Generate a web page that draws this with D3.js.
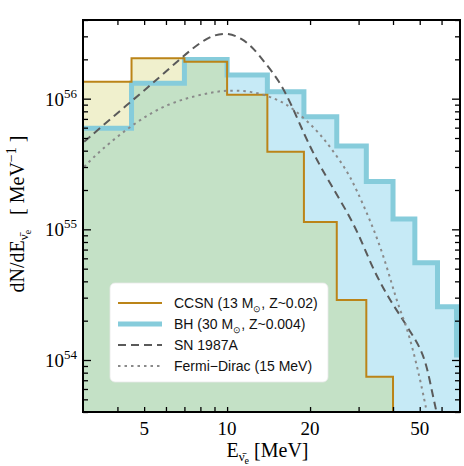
<!DOCTYPE html>
<html>
<head>
<meta charset="utf-8">
<script src="https://cdn.jsdelivr.net/npm/d3@7"></script>
<style>
  body { margin: 0; background: #fff; }
  svg { display: block; }
</style>
</head>
<body>
<div id="chart"></div>
<script>
// bin edges [MeV] and per-bin dN/dE values
const binEdges = [2, 4.5, 7, 10, 14, 19, 25, 32, 40, 48, 58, 68, 80];
const ccsnValues = [1.35e56, 2.04e56, 1.92e56, 1.07e56, 3.93e55, 1.14e55, 2.88e54, 7.45e53, 2e53, 2e53, 2e53, 2e53];
const bhValues = [5.93e55, 1.31e56, 1.99e56, 1.52e56, 1.13e56, 7.28e55, 4.35e55, 2.32e55, 1.20e55, 5.56e54, 2.56e54, 1.09e54];

// SN 1987A curve (dashed)
const snE = [3.03, 4.47, 5.28, 6.68, 8.35, 9.86, 11.33, 12.48, 13.76, 15.37, 16.94, 19.2, 21.16, 23.63, 27.16, 30.34, 33.9, 38.96, 42.36, 46.03, 50.03, 53.0, 55.7, 57.6, 60];
const snN = [4.69e55, 9.48e55, 1.27e56, 1.98e56, 2.93e56, 3.25e56, 2.90e56, 2.43e56, 1.87e56, 1.39e56, 9.48e55, 5.12e55, 3.39e55, 2.25e55, 1.38e55, 8.78e54, 4.89e54, 2.88e54, 2.21e54, 1.67e54, 1.26e54, 9.16e53, 5.40e53, 4.0e53, 2.5e53];

// Fermi-Dirac 15 MeV curve (dotted)
const fdE = [3.03, 3.48, 4.59, 6.07, 8.35, 9.86, 12.14, 14.95, 17.41, 21.16, 23.63, 27.16, 29.53, 32.98, 36.36, 39.52, 41.74, 44.77, 47.3, 50.03, 52.15, 53.0, 55];
const fdN = [3.01e55, 4.05e55, 6.48e55, 9.22e55, 1.10e56, 1.16e56, 1.15e56, 1.01e56, 8.44e55, 5.75e55, 4.29e55, 2.84e55, 2.0e55, 1.18e55, 6.95e54, 3.88e54, 2.64e54, 1.80e54, 1.19e54, 7.24e53, 4.80e53, 4.0e53, 3e53];

const xTickLabels = [5, 10, 20, 50];
const xMinorTicks = [4, 5, 6, 7, 8, 9, 10, 20, 30, 40, 50, 60];
const yMajorTicks = [1e54, 1e55, 1e56];

const width = 464, height = 466;
const margin = {top: 20, right: 4, bottom: 54, left: 83};
const pw = width - margin.left - margin.right;
const ph = height - margin.top - margin.bottom;

const x = d3.scaleLog().domain([3, 70]).range([0, pw]);
const y = d3.scaleLog().domain([4e53, 4e56]).range([ph, 0]);

const svg = d3.select("#chart").append("svg")
  .attr("width", width).attr("height", height);

svg.append("defs").append("clipPath").attr("id", "clip")
  .append("rect").attr("width", pw).attr("height", ph);

const g = svg.append("g").attr("transform", `translate(${margin.left},${margin.top})`);
const plot = g.append("g").attr("clip-path", "url(#clip)");

// step points: each bin start, plus the last edge
function steps(vals) {
  const pts = vals.map((v, i) => [binEdges[i], v]);
  pts.push([binEdges[binEdges.length - 1], vals[vals.length - 1]]);
  return pts;
}
const overlap = ccsnValues.map((v, i) => Math.min(v, bhValues[i]));

const area = d3.area().curve(d3.curveStepAfter)
  .x(d => x(d[0])).y0(ph).y1(d => y(d[1]));
const stepLine = d3.line().curve(d3.curveStepAfter)
  .x(d => x(d[0])).y(d => y(d[1]));
const curve = d3.line().curve(d3.curveBasis).x(d => x(d[0])).y(d => y(d[1]));

plot.append("path").attr("d", area(steps(bhValues))).attr("fill", "#c6eaf6");
plot.append("path").attr("d", area(steps(ccsnValues))).attr("fill", "#f0f0cd");
plot.append("path").attr("d", area(steps(overlap))).attr("fill", "#c4e1c6");

plot.append("path").attr("d", stepLine(steps(bhValues)))
  .attr("fill", "none").attr("stroke", "#86ccdb").attr("stroke-width", 5);
plot.append("path").attr("d", stepLine(steps(ccsnValues)))
  .attr("fill", "none").attr("stroke", "#bb8418").attr("stroke-width", 2);

plot.append("path").attr("d", curve(snE.map((e, i) => [e, snN[i]])))
  .attr("fill", "none").attr("stroke", "#5a5a5a").attr("stroke-width", 2)
  .attr("stroke-dasharray", "8,5");
plot.append("path").attr("d", curve(fdE.map((e, i) => [e, fdN[i]])))
  .attr("fill", "none").attr("stroke", "#8a8a8a").attr("stroke-width", 2)
  .attr("stroke-dasharray", "2.5,4");

// axes, ticks pointing inward
const yMinor = [];
[53, 54, 55, 56].forEach(p => d3.range(1, 10).forEach(m => {
  const v = m * Math.pow(10, p);
  if (v >= 4e53 && v <= 4e56 && m !== 1) yMinor.push(v);
}));

function styleAxis(sel) {
  sel.select(".domain").remove();
  sel.selectAll("line").attr("stroke", "#000").attr("stroke-width", 1.3);
}

g.append("g").attr("transform", `translate(0,${ph})`)
  .call(d3.axisBottom(x).tickValues(xMinorTicks).tickSize(-5).tickFormat(""))
  .call(styleAxis);
g.append("g")
  .call(d3.axisTop(x).tickValues(xMinorTicks).tickSize(-5).tickFormat(""))
  .call(styleAxis);
[0, pw].forEach((tx, k) => {
  const major = k === 0 ? d3.axisLeft(y) : d3.axisRight(y);
  const minor = k === 0 ? d3.axisLeft(y) : d3.axisRight(y);
  g.append("g").attr("transform", `translate(${tx},0)`)
    .call(major.tickValues(yMajorTicks).tickSize(-8).tickFormat("")).call(styleAxis);
  g.append("g").attr("transform", `translate(${tx},0)`)
    .call(minor.tickValues(yMinor).tickSize(-5).tickFormat("")).call(styleAxis);
});

g.append("rect").attr("width", pw).attr("height", ph)
  .attr("fill", "none").attr("stroke", "#000").attr("stroke-width", 2);

const serif = "'Liberation Serif', 'DejaVu Serif', serif";
const sans = "'Liberation Sans', Arial, sans-serif";

g.selectAll(".xlab").data(xTickLabels).enter().append("text")
  .attr("x", d => x(d)).attr("y", ph + 23)
  .attr("text-anchor", "middle").attr("font-family", serif).attr("font-size", 19)
  .text(d => d);

const yl = g.selectAll(".ylab").data(yMajorTicks).enter().append("text")
  .attr("x", -6).attr("y", d => y(d) + 7)
  .attr("text-anchor", "end").attr("font-family", serif).attr("font-size", 19);
yl.append("tspan").text("10");
yl.append("tspan").attr("font-size", 13).attr("dy", -8).text(d => Math.round(Math.log10(d)));

// x label
const xl = svg.append("text").attr("x", margin.left + pw / 2 - 4).attr("y", 457)
  .attr("text-anchor", "middle").attr("font-family", serif).attr("font-size", 20);
xl.append("tspan").text("E");
xl.append("tspan").attr("font-size", 13).attr("dy", 4).text("\u03BD\u0304");
xl.append("tspan").attr("font-size", 10).attr("dy", 3).text("e");
xl.append("tspan").attr("dy", -7).text(" [MeV]");

// y label
const ylab = svg.append("text")
  .attr("transform", "translate(24,214) rotate(-90)")
  .attr("text-anchor", "middle").attr("font-family", serif).attr("font-size", 20);
ylab.append("tspan").text("dN/dE");
ylab.append("tspan").attr("font-size", 13).attr("dy", 4).text("\u03BD\u0304");
ylab.append("tspan").attr("font-size", 10).attr("dy", 3).text("e");
ylab.append("tspan").attr("dy", -7).text("\u00A0\u00A0\u00A0[ MeV");
ylab.append("tspan").attr("font-size", 14).attr("dy", -8).text("\u22121");
ylab.append("tspan").attr("dy", 8).text(" ]");

// legend
const lg = svg.append("g").attr("transform", "translate(110,283)");
lg.append("rect").attr("width", 218).attr("height", 99).attr("rx", 5)
  .attr("fill", "#fff").attr("stroke", "#e8e8e8").attr("stroke-width", 0.8);
const legendItems = [
  {stroke: "#bb8418", w: 2, dash: null, label: ["CCSN (13 M", ", Z~0.02)"]},
  {stroke: "#86ccdb", w: 5, dash: null, label: ["BH (30 M", ", Z~0.004)"]},
  {stroke: "#5a5a5a", w: 2, dash: "8,5", label: ["SN 1987A"]},
  {stroke: "#8a8a8a", w: 2, dash: "2.5,4", label: ["Fermi\u2212Dirac (15 MeV)"]}
];
legendItems.forEach((it, i) => {
  const cy = 20 + i * 21;
  lg.append("line").attr("x1", 8).attr("x2", 52).attr("y1", cy).attr("y2", cy)
    .attr("stroke", it.stroke).attr("stroke-width", it.w)
    .attr("stroke-dasharray", it.dash);
  const t = lg.append("text").attr("x", 64).attr("y", cy + 5)
    .attr("font-family", sans).attr("font-size", 14).attr("fill", "#111");
  t.append("tspan").text(it.label[0]);
  if (it.label.length > 1) {
    t.append("tspan").attr("font-size", 9).attr("dy", 4).text("\u2299");
    t.append("tspan").attr("dy", -4).text(it.label[1]);
  }
});
</script>
</body>
</html>
